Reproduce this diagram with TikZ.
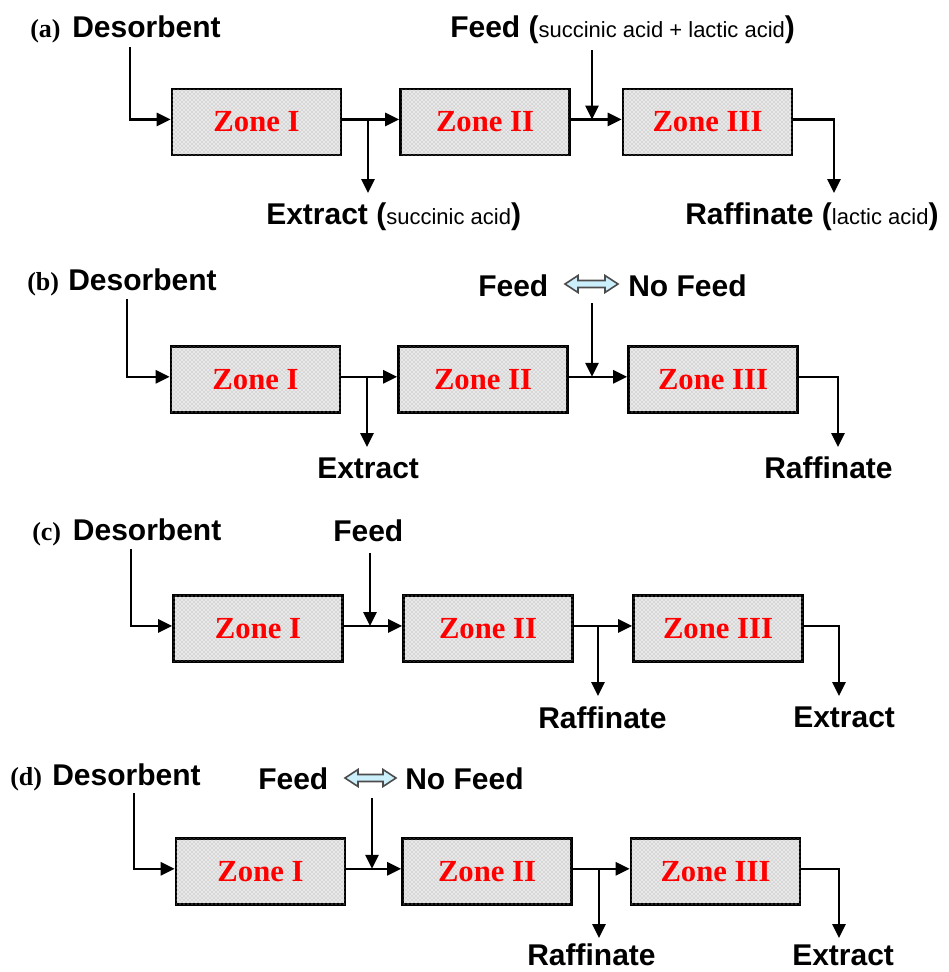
\documentclass[tikz,border=0pt]{standalone}
\usepackage{fontspec}
\setmainfont{Liberation Serif}
\newfontfamily\lsans{Liberation Sans}
\usetikzlibrary{arrows.meta,patterns,calc}
\tikzset{
  zone/.style={draw, line width=2.1pt, fill=gray!18,
    postaction={pattern=crosshatch dots, pattern color=gray!75},
    minimum width=126.75pt, minimum height=49.5pt, inner sep=0pt,
    font=\fontsize{23}{26}\selectfont\bfseries, text=red},
  lab/.style={anchor=base west, inner sep=0pt, font=\lsans\bfseries\fontsize{22.5}{26}\selectfont},
  tag/.style={anchor=base west, inner sep=0pt, font=\bfseries\fontsize{19.5}{22}\selectfont},
  flow/.style={line width=1.6pt, -{Triangle[length=10.5pt,width=10pt]}},
  dbl/.style={draw=black!70, line width=1.2pt, fill=cyan!20, line join=miter},
}
\newcommand\smtxt[1]{{\mdseries\fontsize{16.5}{19}\selectfont #1}}
\def\cs{1.9pt}
\begin{document}
\begin{tikzpicture}[x=0.75pt,y=-0.75pt]
\useasboundingbox (0,0) rectangle (949,972);
%% ---------------- (a)
\node[zone] (aZ1) at (256.5,122) {Zone I};
\node[zone] (aZ2) at (485,122) {Zone II};
\node[zone] (aZ3) at (707.5,122) {Zone III};
\node[tag] (aT) at (30,37) {(a)};
\node[lab] (aDes) at (72,37) {Desorbent};
\node[lab] (aFeed) at (450,37) {Feed (\smtxt{succinic acid + lactic acid})};
\node[lab] (aExt) at (266,224) {Extract (\smtxt{succinic acid})};
\node[lab] (aRaf) at (685,224) {Raffinate (\smtxt{lactic acid})};
\coordinate (aD0) at (130,47);
\coordinate (aF0) at (592,50);
\coordinate (aF1) at (592,119.5);
\coordinate (aE0) at (368,119.5);
\coordinate (aE1) at (368,193);
\coordinate (aR1) at (834,193);
\draw[flow] (aD0) |- ([yshift=\cs]aZ1.west);
\draw[flow] ([yshift=\cs]aZ1.east) -- ([yshift=\cs]aZ2.west);
\draw[flow] (aE0) -- (aE1);
\draw[flow] ([yshift=\cs]aZ2.east) -- ([yshift=\cs]aZ3.west);
\draw[flow] (aF0) -- (aF1);
\draw[flow] ([yshift=\cs]aZ3.east) -| (aR1);
%% ---------------- (b)
\node[zone] (bZ1) at (255.5,379.3) {Zone I};
\node[zone] (bZ2) at (483,379.3) {Zone II};
\node[zone] (bZ3) at (713,379.3) {Zone III};
\node[tag] (bT) at (27,290) {(b)};
\node[lab] (bDes) at (68,290) {Desorbent};
\node[lab] (bFeed) at (478,296) {Feed};
\node[lab] (bNo) at (628,296) {No Feed};
\coordinate (bA) at (591.5,284);
\draw[dbl, shift={(bA)}] (-26.5,0) -- (-13.5,-8.5) -- (-13.5,-3.5) -- (13.5,-3.5) -- (13.5,-8.5)
  -- (26.5,0) -- (13.5,8.5) -- (13.5,3.5) -- (-13.5,3.5) -- (-13.5,8.5) -- cycle;
\node[lab] (bExt) at (317,478) {Extract};
\node[lab] (bRaf) at (764,478) {Raffinate};
\coordinate (bD0) at (127,299);
\coordinate (bF0) at (592,303);
\coordinate (bF1) at (592,376.8);
\coordinate (bE0) at (367,376.8);
\coordinate (bE1) at (367,447);
\coordinate (bR1) at (838,447);
\draw[flow] (bD0) |- ([yshift=\cs]bZ1.west);
\draw[flow] ([yshift=\cs]bZ1.east) -- ([yshift=\cs]bZ2.west);
\draw[flow] (bE0) -- (bE1);
\draw[flow] ([yshift=\cs]bZ2.east) -- ([yshift=\cs]bZ3.west);
\draw[flow] (bF0) -- (bF1);
\draw[flow] ([yshift=\cs]bZ3.east) -| (bR1);
%% ---------------- (c)
\node[zone] (cZ1) at (258,628.5) {Zone I};
\node[zone] (cZ2) at (488,628.5) {Zone II};
\node[zone] (cZ3) at (718,628.5) {Zone III};
\node[tag] (cT) at (32,540) {(c)};
\node[lab] (cDes) at (72.7,540) {Desorbent};
\node[lab] (cFeed) at (333,541.5) {Feed};
\node[lab] (cRaf) at (538,728) {Raffinate};
\node[lab] (cExt) at (793,727) {Extract};
\coordinate (cD0) at (131,549);
\coordinate (cF0) at (370,553);
\coordinate (cF1) at (370,626);
\coordinate (cR0) at (598,626);
\coordinate (cR1) at (598,696);
\coordinate (cE1) at (839,696);
\draw[flow] (cD0) |- ([yshift=\cs]cZ1.west);
\draw[flow] ([yshift=\cs]cZ1.east) -- ([yshift=\cs]cZ2.west);
\draw[flow] (cF0) -- (cF1);
\draw[flow] ([yshift=\cs]cZ2.east) -- ([yshift=\cs]cZ3.west);
\draw[flow] (cR0) -- (cR1);
\draw[flow] ([yshift=\cs]cZ3.east) -| (cE1);
%% ---------------- (d)
\node[zone] (dZ1) at (260.5,871.3) {Zone I};
\node[zone] (dZ2) at (487,871.3) {Zone II};
\node[zone] (dZ3) at (715.5,871.3) {Zone III};
\node[tag] (dT) at (10,785) {(d)};
\node[lab] (dDes) at (52,785) {Desorbent};
\node[lab] (dFeed) at (258,789) {Feed};
\node[lab] (dNo) at (405,789) {No Feed};
\coordinate (dA) at (370.5,778);
\draw[dbl, shift={(dA)}] (-25.5,0) -- (-12.5,-8.5) -- (-12.5,-3.5) -- (12.5,-3.5) -- (12.5,-8.5)
  -- (25.5,0) -- (12.5,8.5) -- (12.5,3.5) -- (-12.5,3.5) -- (-12.5,8.5) -- cycle;
\node[lab] (dRaf) at (527,965) {Raffinate};
\node[lab] (dExt) at (792,965) {Extract};
\coordinate (dD0) at (134,793);
\coordinate (dF0) at (372,798);
\coordinate (dF1) at (372,868.8);
\coordinate (dR0) at (599,868.8);
\coordinate (dR1) at (599,938);
\coordinate (dE1) at (839,938);
\draw[flow] (dD0) |- ([yshift=\cs]dZ1.west);
\draw[flow] ([yshift=\cs]dZ1.east) -- ([yshift=\cs]dZ2.west);
\draw[flow] (dF0) -- (dF1);
\draw[flow] ([yshift=\cs]dZ2.east) -- ([yshift=\cs]dZ3.west);
\draw[flow] (dR0) -- (dR1);
\draw[flow] ([yshift=\cs]dZ3.east) -| (dE1);
\end{tikzpicture}
\end{document}
